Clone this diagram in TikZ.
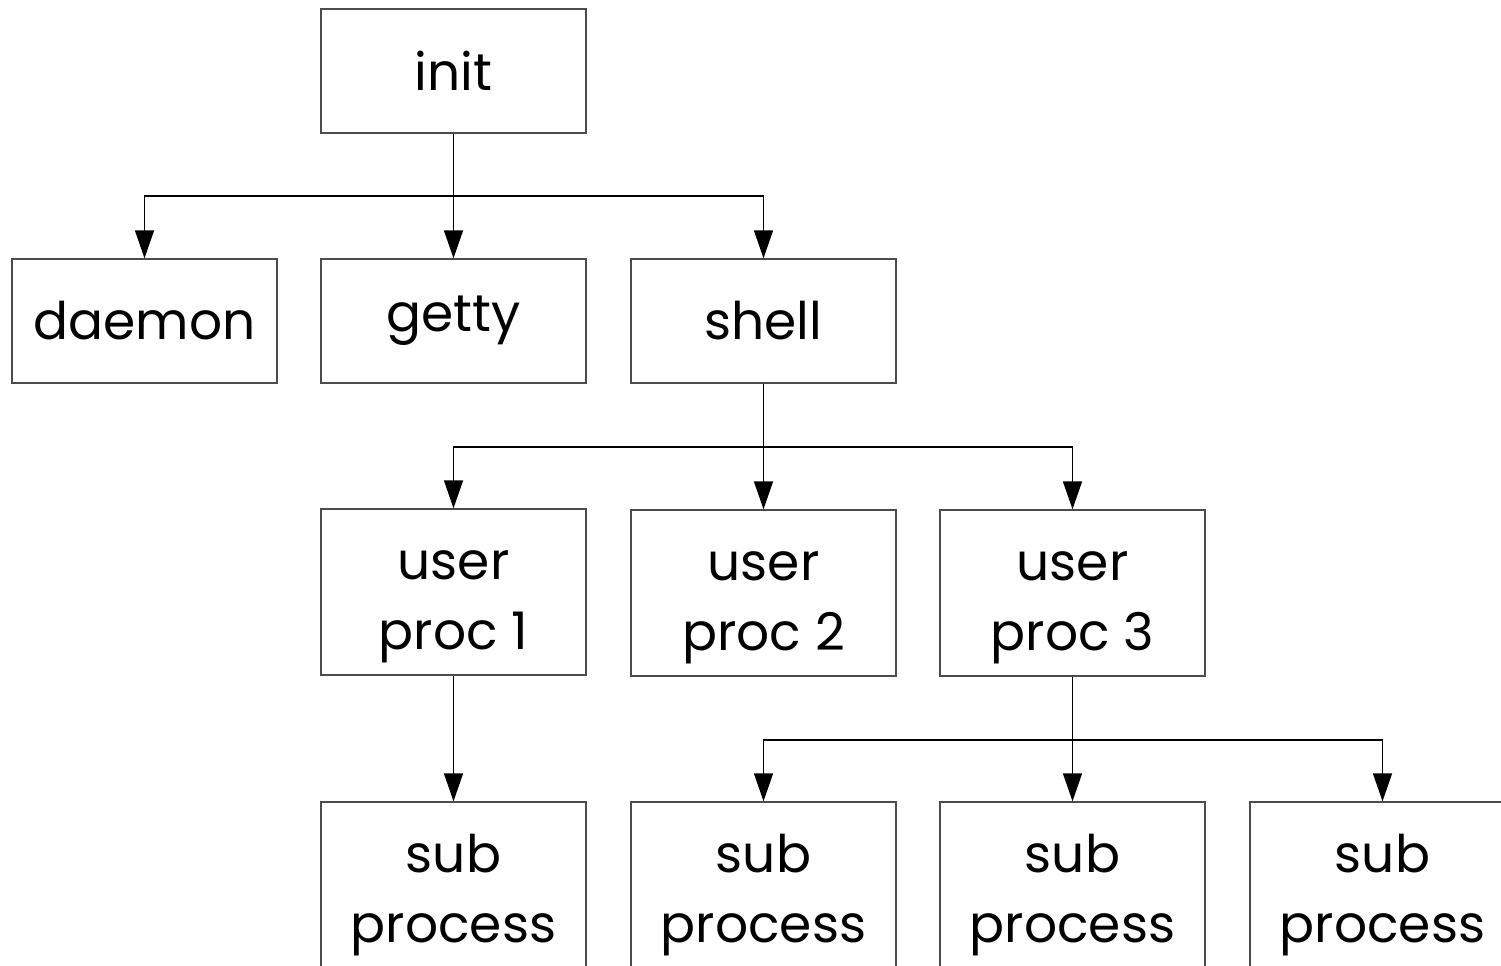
\documentclass[tikz,border=0pt]{standalone}
\usepackage{fontspec}
\setmainfont{Poppins}
\usepackage{tikz}
\usetikzlibrary{arrows.meta, positioning}

\tikzset{
  proc/.style={draw=black!70, line width=0.8pt, minimum width=5.3cm, minimum height=2.48cm, inner sep=0pt, font=\fontsize{29.5}{40}\selectfont, align=center},
  tallproc/.style={proc, minimum height=3.32cm, text height=73pt},
  link/.style={-{Triangle[length=0.56cm, width=0.38cm]}, line width=0.8pt},
}

\begin{document}
\begin{tikzpicture}[x=0.02cm, y=-0.02cm]
                \clip (0,0) rectangle (1501,965);
                % Top node
                \node[proc] (init) at (453.5,71) {init};
                
                % Second row
                \node[proc] (daemon) at (144.5,321) {daemon};
                \node[proc] (getty) at (453.5,321) {getty};
                \node[proc] (shell) at (763.5,321) {shell};
                
                % User processes
                \node[tallproc] (up1) at (453.5,592) {user\\proc 1};
                \node[tallproc] (up2) at (763.5,593) {user\\proc 2};
                \node[tallproc] (up3) at (1072.5,593) {user\\proc 3};
                
                % Sub processes
                \node[tallproc] (sub1) at (453.5,885) {sub\\process};
                \node[tallproc] (sub2) at (763.5,885) {sub\\process};
                \node[tallproc] (sub3) at (1072.5,885) {sub\\process};
                \node[tallproc] (sub4) at (1382.5,885) {sub\\process};
                
                % Junctions
                \coordinate (j1) at (453.5,196);
                \coordinate (j2) at (763.5,447);
                \coordinate (j3) at (1072.5,740);
                
                % Arrows
                \draw[link] (init.south) -- (getty.north);
                \draw[link] (j1) -| (daemon.north);
                \draw[link] (j1) -| (shell.north);
                \draw[link] (shell.south) -- (up2.north);
                \draw[link] (j2) -| (up1.north);
                \draw[link] (j2) -| (up3.north);
                \draw[link] (up1.south) -- (sub1.north);
                \draw[link] (up3.south) -- (sub3.north);
                \draw[link] (j3) -| (sub2.north);
                \draw[link] (j3) -| (sub4.north);
            \end{tikzpicture}
\end{document}
